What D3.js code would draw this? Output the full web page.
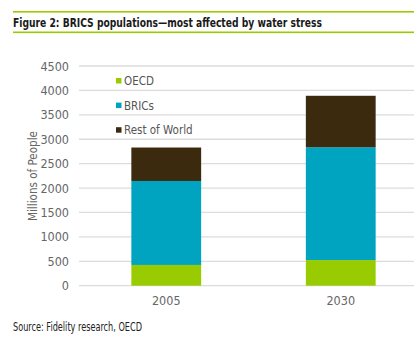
<!DOCTYPE html>
<html>
<head>
<meta charset="utf-8">
<script src="https://cdn.jsdelivr.net/npm/d3@7"></script>
<style>
  body { margin: 0; background: #fff; }
  svg { display: block; font-family: "DejaVu Sans Condensed", "DejaVu Sans", sans-serif; }
</style>
</head>
<body>
<div class="container"></div>
<script>
const WIDTH = 414;
const HEIGHT = 339;

const years = ['2005', '2030'];
const seriesNames = ['OECD', 'BRICs', 'Rest of World'];
const oecd = [425, 525];
const brics = [1720, 2310];
const restOfWorld = [685, 1055];
const yTicks = [0, 500, 1000, 1500, 2000, 2500, 3000, 3500, 4000, 4500];

const colors = ['#99cc00', '#00a3c0', '#3b2a0e'];

var rows = years.map(function (y, i) {
  return { year: y, 'OECD': oecd[i], 'BRICs': brics[i], 'Rest of World': restOfWorld[i] };
});

var svg = d3.select('.container').append('svg')
  .attr('width', WIDTH)
  .attr('height', HEIGHT);

// title rules and heading
svg.append('rect').attr('x', 13).attr('y', 11).attr('width', WIDTH - 13).attr('height', 1.6).attr('fill', '#99cc00');
svg.append('rect').attr('x', 13).attr('y', 31.5).attr('width', WIDTH - 13).attr('height', 1.6).attr('fill', '#99cc00');
svg.append('text')
  .attr('x', 13).attr('y', 27)
  .attr('font-size', 13).attr('font-weight', 'bold').attr('fill', '#1a1a1a')
  .attr('textLength', 309).attr('lengthAdjust', 'spacingAndGlyphs')
  .text('Figure 2: BRICS populations\u2014most affected by water stress');

var x = d3.scaleBand().domain(years).range([79, 428]).paddingInner(0.6).paddingOuter(0.3);
var y = d3.scaleLinear().domain([0, 4500]).range([285.7, 66]);

// gridlines
svg.append('g').selectAll('line')
  .data(yTicks)
  .enter().append('line')
  .attr('x1', 79).attr('x2', WIDTH)
  .attr('y1', function (d) { return y(d); })
  .attr('y2', function (d) { return y(d); })
  .attr('stroke', '#dcdcdc').attr('stroke-width', 1.3);

// y axis labels
svg.append('g').selectAll('text')
  .data(yTicks)
  .enter().append('text')
  .attr('x', 69)
  .attr('y', function (d) { return y(d) + 4.5; })
  .attr('text-anchor', 'end')
  .attr('font-size', 12.5).attr('fill', '#666')
  .text(function (d) { return d; });

svg.append('text')
  .attr('transform', 'translate(37,176) rotate(-90)')
  .attr('text-anchor', 'middle')
  .attr('font-size', 12.5).attr('fill', '#666')
  .attr('textLength', 90).attr('lengthAdjust', 'spacingAndGlyphs')
  .text('Millions of People');

// stacked bars
var stack = d3.stack().keys(seriesNames)(rows);

svg.append('g').selectAll('g')
  .data(stack)
  .enter().append('g')
  .attr('fill', function (d, i) { return colors[i]; })
  .selectAll('rect')
  .data(function (d) { return d; })
  .enter().append('rect')
  .attr('x', function (d) { return x(d.data.year); })
  .attr('width', x.bandwidth())
  .attr('y', function (d) { return y(d[1]); })
  .attr('height', function (d) { return y(d[0]) - y(d[1]); });

// x labels
svg.append('g').selectAll('text')
  .data(years)
  .enter().append('text')
  .attr('x', function (d) { return x(d) + x.bandwidth() / 2; })
  .attr('y', 305)
  .attr('text-anchor', 'middle')
  .attr('font-size', 12.5).attr('fill', '#666')
  .text(function (d) { return d; });

// legend
var legend = svg.append('g').selectAll('g')
  .data(seriesNames)
  .enter().append('g')
  .attr('transform', function (d, i) { return 'translate(116,' + (78 + i * 24.6) + ')'; });

legend.append('rect')
  .attr('width', 5.5).attr('height', 5.5)
  .attr('fill', function (d, i) { return colors[i]; });

legend.append('text')
  .attr('x', 8).attr('y', 7)
  .attr('font-size', 11.5).attr('fill', '#555')
  .text(function (d) { return d; });

svg.append('text')
  .attr('x', 13).attr('y', 331)
  .attr('font-size', 11.5).attr('fill', '#222')
  .attr('textLength', 129).attr('lengthAdjust', 'spacingAndGlyphs')
  .text('Source: Fidelity research, OECD');
</script>
</body>
</html>
